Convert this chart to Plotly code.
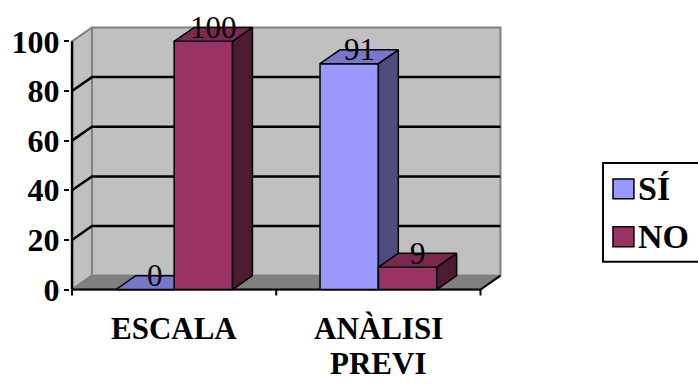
import plotly.graph_objects as go

# ---- data ----
categories = ["ESCALA", "ANÀLISI PREVI"]
series_names = ["SÍ", "NO"]
si_values = [0, 91]
no_values = [100, 9]
y_ticks = [0, 20, 40, 60, 80, 100]

series_values = [si_values, no_values]

# ---- style ----
FONT = "Liberation Serif, serif"
GAP = 1.5            # gap between groups, in bar widths
DEPTH_X = 0.0976     # depth offset along x (category units)
DEPTH_Y = 5.6        # depth offset along y (value units)
FACE_COLORS = [
    {"front": "#9999FF", "top": "#7777CC", "side": "#4D4D80"},
    {"front": "#993366", "top": "#7A2952", "side": "#4D1A33"},
]
WALL = "#C0C0C0"
FLOOR = "#808080"
EDGE = "#808080"

# plot-area geometry (pixels) and axis ranges
X_RANGE = [-0.51, 1.62]
Y_RANGE = [-3, 107]
PX_PER_X = 205.0
PX_PER_Y = 2.49
L = 70 - (-0.5 - X_RANGE[0]) * PX_PER_X
T = 41 - (Y_RANGE[1] - 100) * PX_PER_Y
W = (X_RANGE[1] - X_RANGE[0]) * PX_PER_X
H = (Y_RANGE[1] - Y_RANGE[0]) * PX_PER_Y
FIG_W, FIG_H = 698, 385


def paper_x(px):
    return (px - L) / W


def paper_y(py):
    return (T + H - py) / H


fig = go.Figure()


def poly(xs, ys, fill, line="black", width=1.5):
    fig.add_trace(go.Scatter(
        x=list(xs) + [xs[0]], y=list(ys) + [ys[0]],
        mode="lines", fill="toself", fillcolor=fill,
        line=dict(color=line, width=width),
        hoverinfo="skip", showlegend=False))


def seg(xs, ys, color="black", width=2):
    fig.add_trace(go.Scatter(
        x=xs, y=ys, mode="lines", line=dict(color=color, width=width),
        hoverinfo="skip", showlegend=False))


n_cat = len(categories)
x_left, x_right = -0.5, n_cat - 0.5
y_top = y_ticks[-1]

# walls and floor
poly([x_left, x_left, x_left + DEPTH_X, x_left + DEPTH_X],
     [0, y_top, y_top + DEPTH_Y, DEPTH_Y], WALL, EDGE, 2)
poly([x_left + DEPTH_X, x_right + DEPTH_X, x_right + DEPTH_X, x_left + DEPTH_X],
     [DEPTH_Y, DEPTH_Y, y_top + DEPTH_Y, y_top + DEPTH_Y], WALL, EDGE, 2)
poly([x_left, x_right, x_right + DEPTH_X, x_left + DEPTH_X],
     [0, 0, DEPTH_Y, DEPTH_Y], FLOOR, EDGE, 2)

# gridlines on side and back walls
for v in y_ticks[1:-1]:
    seg([x_left, x_left + DEPTH_X, x_right + DEPTH_X],
        [v, v + DEPTH_Y, v + DEPTH_Y], "black", 2.5)

# floor front edge and right diagonal
seg([x_left, x_right, x_right + DEPTH_X], [0, 0, DEPTH_Y], "black", 2)
# category tick marks
for k in range(n_cat + 1):
    xt = x_left + k
    seg([xt, xt], [0, -2.4], "black", 2)
# value axis line
seg([x_left, x_left], [0, y_top], "black", 2.5)

# 3-D columns, drawn left to right
bw = 1.0 / (len(series_values) + GAP)
for i in range(n_cat):
    for j, vals in enumerate(series_values):
        v = vals[i]
        x0 = i - bw * len(series_values) / 2 + j * bw
        x1 = x0 + bw
        c = FACE_COLORS[j]
        poly([x0, x1, x1, x0], [0, 0, v, v], c["front"])
        poly([x1, x1, x1 + DEPTH_X, x1 + DEPTH_X],
             [0, v, v + DEPTH_Y, DEPTH_Y], c["side"])
        poly([x0, x1, x1 + DEPTH_X, x0 + DEPTH_X],
             [v, v, v + DEPTH_Y, v + DEPTH_Y], c["top"])
        fig.add_annotation(
            x=(x0 + x1) / 2 + DEPTH_X / 2, y=v + DEPTH_Y, text=str(v),
            showarrow=False, xanchor="center", yanchor="middle",
            font=dict(family=FONT, size=31, color="black"))

# category labels, wrapped word by word
for i, label in enumerate(categories):
    for k, word in enumerate(label.split(" ")):
        fig.add_annotation(
            x=i, xref="x", y=paper_y(329 + 35 * k), yref="paper",
            text=word, showarrow=False, xanchor="center", yanchor="middle",
            borderpad=0,
            font=dict(family=FONT, size=31, color="black", weight="bold"))

# legend box
fig.add_shape(type="rect", xref="paper", yref="paper",
              x0=paper_x(603), x1=paper_x(720),
              y0=paper_y(262), y1=paper_y(163),
              line=dict(color="black", width=2), fillcolor="white")
for j, name in enumerate(series_names):
    cy = 189 + 48 * j
    fig.add_shape(type="rect", xref="paper", yref="paper",
                  x0=paper_x(613), x1=paper_x(634),
                  y0=paper_y(cy + 10), y1=paper_y(cy - 10),
                  line=dict(color="black", width=1.5),
                  fillcolor=FACE_COLORS[j]["front"])
    fig.add_annotation(
        x=paper_x(636), xref="paper", y=paper_y(cy), yref="paper",
        text=name, showarrow=False, xanchor="left", yanchor="middle",
        font=dict(family=FONT, size=34, color="black", weight="bold"))

fig.update_layout(
    width=FIG_W, height=FIG_H,
    margin=dict(l=L, r=FIG_W - L - W, t=T, b=FIG_H - T - H, pad=0),
    paper_bgcolor="white", plot_bgcolor="white",
    showlegend=False,
    xaxis=dict(range=X_RANGE, visible=False, fixedrange=True),
    yaxis=dict(range=Y_RANGE, tickvals=y_ticks,
               ticktext=[str(v) for v in y_ticks],
               ticks="outside", ticklen=5, tickwidth=2, tickcolor="black",
               ticklabelstandoff=-2,
               showgrid=False, zeroline=False, showline=False,
               tickfont=dict(family=FONT, size=32, color="black",
                             weight="bold"),
               fixedrange=True),
)

fig.write_html("out.html")
